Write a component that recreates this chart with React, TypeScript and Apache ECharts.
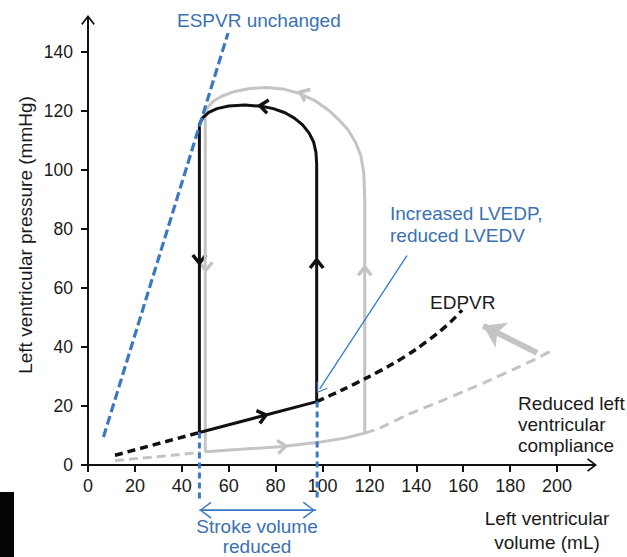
import React, { useEffect, useRef } from 'react';
import * as echarts from 'echarts';

// ---- tick labels ----
const xTicks = [0, 20, 40, 60, 80, 100, 120, 140, 160, 180, 200];
const yTicks = [0, 20, 40, 60, 80, 100, 120, 140];

// ---- curves (volume mL, pressure mmHg) ----
const espvr = [[6.6, 9.5], [59.7, 146.4]];
const normalEdpvrLow = [[11.5, 1.5], [22, 2.3], [35, 3.2], [48, 4.3]];
const normalLoop = [
  [50, 4.5], [65, 5.3], [83, 6.3], [100, 7.9], [110, 9.2], [118, 10.8],
  [118, 90], [117.6, 99], [116.3, 105], [114, 109.5], [111, 113.5], [107, 117],
  [103, 120], [97, 123.4], [90, 126], [83, 127.5], [76, 128], [69, 127.6],
  [62, 126.5], [57, 125], [53.5, 123.4], [51, 121.2], [50, 118.5], [50, 4.5],
];
const normalEdpvrHigh = [[118, 10.8], [124, 12.4], [137, 17.3], [150, 21.5], [161.6, 25.4], [172, 29], [183, 33], [191, 36], [199, 39.3]];
const reducedEdpvrLow = [[11.5, 3.3], [47.5, 11]];
const reducedLoop = [
  [47.5, 11], [97.5, 21.5], [97.5, 102], [97.2, 106], [96.2, 109.5], [94.3, 112.5],
  [91.5, 115.3], [88, 117.6], [84, 119.4], [79, 120.8], [74, 121.6], [67, 122],
  [60, 121.7], [55, 120.8], [51.5, 119.5], [49, 117.8], [47.5, 115.5], [47.5, 11],
];
const reducedEdpvrHigh = [[97.5, 21.5], [108, 25.3], [119, 29.6], [130, 34.3], [140, 39.3], [150, 45.3], [155, 48.8], [159.5, 52.5]];

// direction arrows on loops: [x, y, rotation deg]
const normalArrows = [[50.2, 67, 180], [118, 66, 0], [91.7, 126, 65], [83, 6.3, -84]];
const reducedArrows = [[47.5, 69.5, 180], [97.5, 68.5, 0], [74.6, 121.7, 83], [74.6, 16.7, -75]];

// reference guides
const svLeft = [[47.5, 11], [47.5, -11.5]];
const svRight = [[97.7, 21.5], [97.7, -11.5]];
const svArrow = [[47.5, -15.3], [50.1, -15.3], [94.2, -15.3], [97.2, -15.3]];
const lvedpArrow = [[136, 71], [98.8, 25.8]];
const complianceArrow = [[191.5, 38], [168.5, 47.2]];

const BLUE = '#3a78c2';
const BLUE_TEXT = '#3b71b3';
const GRAY = '#c4c4c4';
const BLACK = '#111111';
const FONT = '"Liberation Sans", Arial, Helvetica, sans-serif';

const AXIS_CHEV = 'path://M7,0 L14,9 L12.7,10.2 L7,2.8 L1.3,10.2 L0,9 Z M6.1,1 L7.9,1 L7.9,10 L6.1,10 Z';
const LOOP_CHEV = 'path://M0,10 L8,0 L16,10 L13.2,12 L8,5.6 L2.8,12 Z';
const THIN_CHEV = 'path://M0,12 L9,0 L18,12 L16.6,12.9 L9,2.3 L1.4,12.9 Z';

export default function App() {
  const ref = useRef<HTMLDivElement>(null);
  useEffect(() => {
    const chart = echarts.init(ref.current!, null, { renderer: 'svg' });
    const axisCommon = {
      type: 'value',
      min: 0,
      splitLine: { show: false },
      axisLine: {
        show: true,
        symbol: ['none', AXIS_CHEV],
        symbolSize: [14, 10],
        lineStyle: { color: BLACK, width: 2 },
      },
    };
    const option: any = {
      animation: false,
      grid: { left: 88, right: 35, top: 20, bottom: 92, containLabel: false, outerBoundsMode: 'none' },
      xAxis: {
        ...axisCommon,
        max: 214.9,
        axisTick: { show: true, customValues: xTicks, length: 7, lineStyle: { color: BLACK, width: 2 } },
        axisLabel: { customValues: xTicks, fontSize: 18, color: '#1a1a1a', margin: 12, fontFamily: FONT },
      },
      yAxis: {
        ...axisCommon,
        max: 150.85,
        axisTick: { show: true, customValues: yTicks, length: 7, lineStyle: { color: BLACK, width: 2 } },
        axisLabel: { customValues: yTicks, fontSize: 17.5, color: '#1a1a1a', margin: 15, fontFamily: FONT },
      },
      series: [
        { type: 'line', data: normalEdpvrLow, symbol: 'none', clip: false, silent: true,
          lineStyle: { color: GRAY, width: 3, type: [9, 5] } },
        { type: 'line', data: normalLoop, symbol: 'none', clip: false, silent: true,
          lineStyle: { color: GRAY, width: 3 } },
        { type: 'line', data: normalEdpvrHigh, symbol: 'none', clip: false, silent: true, smooth: 0.3,
          lineStyle: { color: GRAY, width: 3, type: [10, 6] },
          markLine: {
            silent: true, animation: false,
            symbol: ['none', 'arrow'], symbolSize: [21, 21],
            label: { show: false }, emphasis: { disabled: true },
            lineStyle: { color: GRAY, width: 6, type: 'solid' },
            data: [[{ coord: complianceArrow[0] }, { coord: complianceArrow[1] }]],
          } },
        { type: 'scatter', silent: true, symbol: LOOP_CHEV, symbolSize: [16, 12],
          itemStyle: { color: GRAY, opacity: 1 },
          data: normalArrows.map((a) => ({ value: [a[0], a[1]], symbolRotate: a[2] })) },
        { type: 'line', data: reducedEdpvrLow, symbol: 'none', clip: false, silent: true,
          lineStyle: { color: BLACK, width: 3.5, type: [8, 5] } },
        { type: 'line', data: reducedLoop, symbol: 'none', clip: false, silent: true,
          lineStyle: { color: BLACK, width: 3 } },
        { type: 'line', data: reducedEdpvrHigh, symbol: 'none', clip: false, silent: true, smooth: 0.3,
          lineStyle: { color: BLACK, width: 3.5, type: [8, 5] } },
        { type: 'scatter', silent: true, symbol: LOOP_CHEV, symbolSize: [16, 12],
          itemStyle: { color: BLACK, opacity: 1 },
          data: reducedArrows.map((a) => ({ value: [a[0], a[1]], symbolRotate: a[2] })) },
        { type: 'line', data: espvr, symbol: 'none', clip: false, silent: true,
          lineStyle: { color: BLUE, width: 3.2, type: [9, 4] } },
        { type: 'line', data: svLeft, symbol: 'none', clip: false, silent: true,
          lineStyle: { color: BLUE, width: 3, type: [6, 4] } },
        { type: 'line', data: svRight, symbol: 'none', clip: false, silent: true,
          lineStyle: { color: BLUE, width: 3, type: [6, 4] },
          markLine: {
            silent: true, animation: false,
            symbol: ['none', THIN_CHEV], symbolSize: [13, 10],
            label: { show: false }, emphasis: { disabled: true },
            lineStyle: { color: BLUE, width: 1.3, type: 'solid' },
            data: [[{ coord: lvedpArrow[0] }, { coord: lvedpArrow[1] }]],
          } },
        { type: 'line', clip: false, silent: true, showSymbol: true, showAllSymbol: true,
          lineStyle: { color: BLUE, width: 1.8 }, itemStyle: { color: BLUE },
          data: svArrow.map((p, i) => ({
            value: p,
            symbol: i === 1 || i === 2 ? THIN_CHEV : 'none',
            symbolSize: [17, 12],
            symbolRotate: i === 1 ? 90 : -90,
          })) },
      ],
      graphic: [
        { type: 'rect', shape: { x: 0, y: 492, width: 14, height: 65 }, style: { fill: '#050505' } },
        { type: 'text', x: 25, y: 235, rotation: Math.PI / 2,
          style: { text: 'Left ventricular pressure (mmHg)', fill: '#1a1a1a', font: `19px ${FONT}`, align: 'center', verticalAlign: 'middle' } },
        { type: 'text', x: 547, y: 530,
          style: { text: 'Left ventricular\nvolume (mL)', fill: '#1a1a1a', font: `19px ${FONT}`, lineHeight: 24, align: 'center', verticalAlign: 'middle' } },
        { type: 'text', x: 177, y: 20,
          style: { text: 'ESPVR unchanged', fill: BLUE_TEXT, font: `19px ${FONT}`, align: 'left', verticalAlign: 'middle' } },
        { type: 'text', x: 390, y: 224,
          style: { text: 'Increased LVEDP,\nreduced LVEDV', fill: BLUE_TEXT, font: `19px ${FONT}`, lineHeight: 22, align: 'left', verticalAlign: 'middle' } },
        { type: 'text', x: 430, y: 302,
          style: { text: 'EDPVR', fill: '#1a1a1a', font: `19px ${FONT}`, align: 'left', verticalAlign: 'middle' } },
        { type: 'text', x: 518, y: 424,
          style: { text: 'Reduced left\nventricular\ncompliance', fill: '#1a1a1a', font: `19px ${FONT}`, lineHeight: 21, align: 'left', verticalAlign: 'middle' } },
        { type: 'text', x: 257, y: 536,
          style: { text: 'Stroke volume\nreduced', fill: BLUE_TEXT, font: `19px ${FONT}`, lineHeight: 20, align: 'center', verticalAlign: 'middle' } },
      ],
    };
    chart.setOption(option);
    return () => chart.dispose();
  }, []);
  return <div ref={ref} style={{ position: 'absolute', left: 0, top: 0, width: 627, height: 557 }} />;
}
